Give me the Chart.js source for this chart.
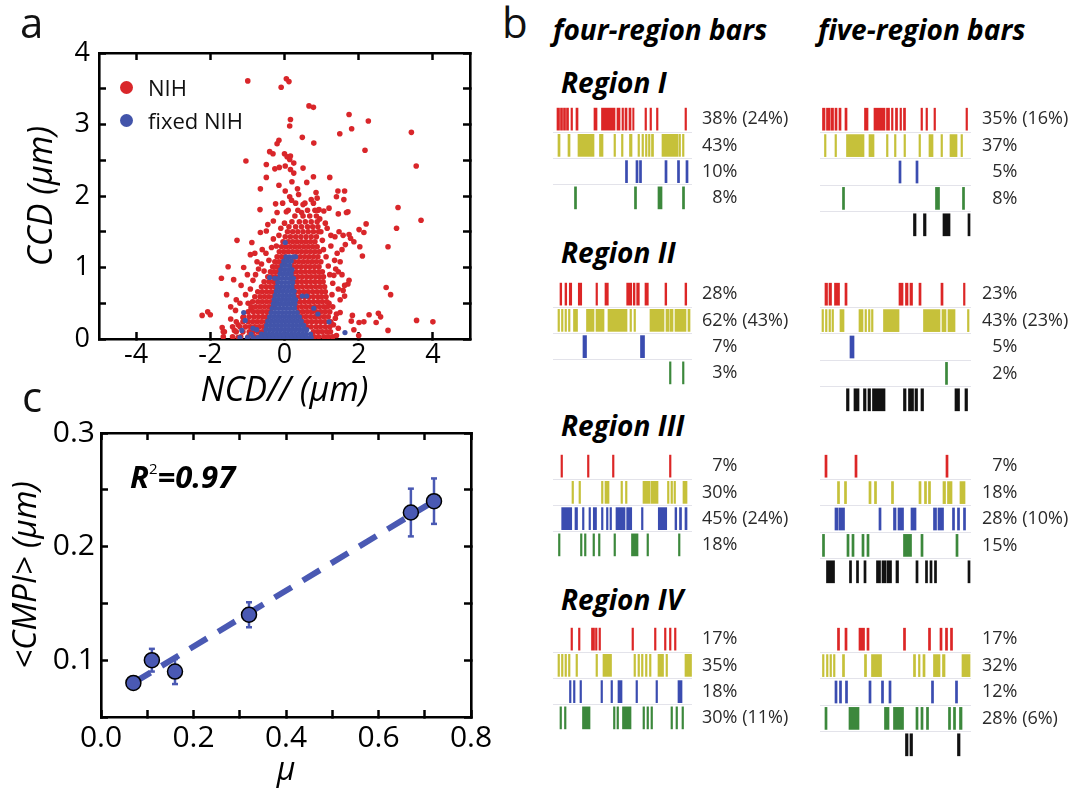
<!DOCTYPE html>
<html><head><meta charset="utf-8">
<script src="https://cdn.jsdelivr.net/npm/chart.js@4.4.0/dist/chart.umd.min.js"></script>
<style>
body{margin:0;width:1084px;height:790px;overflow:hidden;background:#fff;position:relative;font-family:'Open Sans','DejaVu Sans',sans-serif;color:#111}
canvas{position:absolute}
.t{position:absolute;white-space:nowrap;line-height:1}
.bi{font-weight:bold;font-style:italic;color:#000}
.dot{position:absolute;width:13px;height:13px;border-radius:50%}
</style></head><body>

<canvas id="ca" width="500" height="420" style="left:0;top:0"></canvas>
<canvas id="cc" width="500" height="400" style="left:0;top:400px"></canvas>

<canvas id="b4_1" width="245" height="105" style="left:553px;top:106px"></canvas>
<canvas id="b4_2" width="245" height="105" style="left:553px;top:281px"></canvas>
<canvas id="b4_3" width="245" height="105" style="left:553px;top:453px"></canvas>
<canvas id="b4_4" width="245" height="105" style="left:553px;top:626px"></canvas>
<canvas id="b5_1" width="256" height="132" style="left:820px;top:106px"></canvas>
<canvas id="b5_2" width="256" height="132" style="left:820px;top:281px"></canvas>
<canvas id="b5_3" width="256" height="132" style="left:820px;top:453px"></canvas>
<canvas id="b5_4" width="256" height="132" style="left:820px;top:626px"></canvas>

<div class="t" style="left:20px;top:1px;font-size:42px">a</div>
<div class="t" style="left:502px;top:1px;font-size:42px">b</div>
<div class="t" style="left:22px;top:375px;font-size:42px">c</div>

<div class="dot" style="left:120px;top:81px;background:#d9262a"></div>
<div class="t" style="left:148px;top:75.5px;font-size:22px">NIH</div>
<div class="dot" style="left:120px;top:114px;background:#4254aa"></div>
<div class="t" style="left:148px;top:108.5px;font-size:22px">fixed NIH</div>

<div class="t bi" style="left:130px;top:461px;font-size:31px">R<sup style="font-size:15px;font-weight:normal;font-style:normal;vertical-align:14px">2</sup>=0.97</div>

<div class="t bi" style="left:553px;top:15px;font-size:28px">four-region bars</div>
<div class="t bi" style="left:818px;top:15px;font-size:28px">five-region bars</div>
<div class="t bi" style="left:561px;top:68px;font-size:28px">Region I</div>
<div class="t bi" style="left:561px;top:238px;font-size:28px">Region II</div>
<div class="t bi" style="left:561px;top:411px;font-size:28px">Region III</div>
<div class="t bi" style="left:561px;top:585px;font-size:28px">Region IV</div>

<script>
const FONT = "'Open Sans','DejaVu Sans',sans-serif";
const RED = '#d9262a', BLUE = '#4254aa', MARK = '#4a59b3';
const ROW_COLORS = ['#dc2626', '#c6c13a', '#3a4cb0', '#3c883c', '#111111'];

// ---------- panel a : NIH (red) and fixed NIH (blue) ----------
const ncdTicks = [-4, -2, 0, 2, 4];
const nihOutliers = [[-0.99,3.61],[0.05,3.64],[0.12,3.60],[-0.09,3.52],[0.66,3.26],[0.78,3.24],[0.16,3.07],[0.14,2.98],
 [1.74,3.14],[2.26,3.05],[1.81,2.94],[1.49,2.87],[3.42,2.89],[0.48,2.82],[-0.15,2.78],[-0.2,2.73],[0.79,2.74],[2.17,2.64],
 [-0.4,2.62],[-0.31,2.59],[0,2.59],[0.07,2.55],[0.16,2.56],[0.14,2.51],[-1.04,2.49],[-0.49,2.44],[3.55,2.42],[0.25,2.46],
 [-0.26,2.38],[-0.14,2.40],[0.02,2.42],[0.5,2.39],[0.16,2.37],[0.25,2.32],[0.78,2.27],[1.22,2.26],[-0.49,2.26],[0.2,2.2],
 [0.6,2.19],[-0.15,2.15],[-0.65,2.10],[0.02,2.07],[1.44,2.07],[1.62,2.07],[0.38,2.02],[0.14,1.99],[0.19,1.94],[1.40,1.99],
 [1.60,1.95],[0.88,1.97],[-0.24,1.89],[3.06,1.84],[-0.66,1.81],[0.93,1.81],[1.06,1.79],[1.2,1.83],[0.05,1.78],[1.71,1.78],
 [3.68,1.66],[0.46,1.77],[-0.2,1.77],[1.45,1.75],[1.67,1.77],[3.02,1.55],[2.01,1.53],[2.14,1.49],[2.2,1.61],[-0.49,1.51],
 [-0.65,1.49],[1.47,1.50],[1.74,1.46],[-1.28,1.38],[2.79,1.29],[-0.88,1.35],[2.03,1.29],[1.87,1.36],[-0.92,1.18],[-0.74,1.08],
 [-1.52,1.01],[2.10,1.16],[-1.70,0.85],[-1.37,0.83],[-1.17,0.75],[1.74,0.82],[1.71,0.77],[-1.56,0.62],[2.74,0.72],[2.86,0.62],
 [1.62,0.6],[-2.22,0.33],[-2.0,0.34],[-2.07,0.38],[-1.68,0.16],[-1.65,0.1],[2.28,0.34],[2.53,0.36],[2.59,0.31],[2.47,0.23],
 [3.56,0.26],[4.0,0.24],[2.79,0.12],[2.01,0.23],[2.14,0.24],[1.87,0.13],[1.83,0.33],[1.80,0.25],[1.5,0.37],[1.37,0.29],
 [1.58,0.68],[1.62,0.75],[1.33,0.89],[1.45,0.94],[1.5,1.08],[1.55,1.25],[1.64,1.32],[1.78,1.41],[1.36,1.43],[1.58,1.45],
 [-1.3,0.55],[-1.45,0.45],[-1.25,0.02],[1.4,0.05],[1.45,0.15],[2.0,0.05]];
const nihFringe = [[-1.45,0.28],[-1.32,0.4],[-1.2,0.5],[-1.05,0.62],[-0.98,0.5],[-0.92,0.7],[-0.85,0.82],[-0.78,0.9],
 [-0.7,0.98],[-0.62,1.05],[-0.55,0.95],[-0.5,1.2],[-0.42,1.1],[-0.35,1.28],[-0.3,1.4],[-0.22,1.3],[-1.12,0.3],[-1.25,0.2],
 [-1.35,0.12],[-0.9,0.42],[-0.6,1.25],[-0.45,1.6],[-0.3,1.65],[-0.1,1.55],[-0.15,1.45],[1.2,0.5],[1.28,0.62],[1.3,0.78],
 [1.22,0.9],[1.18,1.02],[1.12,1.15],[1.05,1.25],[1.02,1.38],[0.98,1.5],[1.1,1.62],[0.95,1.68],[1.25,1.3],[1.35,1.1],
 [1.4,0.35],[1.32,0.2],[1.25,1.45],[1.15,1.55],[0.9,1.8],[0.72,1.95],[0.5,1.88],[0.0,1.62],[1.38,0.98],[1.45,0.7],[1.3,0.45],
 [-0.8,1.2],[-1.0,0.9],[-1.1,1.0],[1.5,0.55],[1.55,0.9],[1.42,1.2],[0.85,2.05],[0.35,2.1],[-0.05,1.9]];
// dense core, one row per CCD level: [CCD, NCD values...]
const nihRows = [
 [0.03,-1.65,-1.4,-1.18,-0.98,-0.8,-0.66,0.8,0.92,1.06,1.18,1.3],
 [0.10,-1.62,-1.3,-1.12,-0.95,-0.85,-0.72,-0.6,0.78,0.9,1.02,1.14,1.24],
 [0.17,-1.4,-1.2,-1.05,-0.92,-0.8,-0.68,-0.56,0.6,0.72,0.85,0.97,1.1,1.22],
 [0.24,-1.3,-1.12,-0.98,-0.86,-0.74,-0.62,-0.5,0.5,0.62,0.74,0.86,0.98,1.1,1.25],
 [0.31,-1.1,-0.95,-0.82,-0.7,-0.58,-0.47,0.45,0.57,0.7,0.82,0.94,1.06,1.18],
 [0.38,-0.98,-0.84,-0.72,-0.6,-0.48,-0.38,0.38,0.5,0.62,0.74,0.86,0.98,1.1,1.22],
 [0.45,-0.9,-0.78,-0.66,-0.54,-0.42,-0.32,0.34,0.46,0.58,0.7,0.82,0.94,1.06,1.16],
 [0.52,-0.86,-0.72,-0.6,-0.48,-0.36,-0.28,0.3,0.42,0.54,0.66,0.78,0.9,1.02,1.14],
 [0.59,-0.8,-0.66,-0.54,-0.42,-0.3,0.3,0.42,0.54,0.66,0.78,0.9,1.0,1.12],
 [0.66,-0.72,-0.6,-0.48,-0.36,-0.25,0.28,0.4,0.52,0.64,0.76,0.88,1.0,1.1],
 [0.73,-0.62,-0.5,-0.38,-0.27,-0.2,0.25,0.36,0.48,0.6,0.72,0.84,0.96,1.08],
 [0.80,-0.55,-0.42,-0.3,-0.2,0.22,0.34,0.46,0.58,0.7,0.82,0.94,1.04],
 [0.87,-0.45,-0.34,-0.24,0.24,0.36,0.48,0.6,0.72,0.84,0.95,1.05],
 [0.94,-0.38,-0.28,-0.18,0.22,0.32,0.44,0.56,0.68,0.8,0.92,1.02],
 [1.01,-0.32,-0.22,-0.12,0.22,0.33,0.45,0.57,0.69,0.81,0.93],
 [1.08,-0.26,-0.15,-0.05,0.26,0.38,0.5,0.62,0.74,0.86,0.98],
 [1.15,-0.2,-0.08,0.02,0.3,0.42,0.54,0.66,0.78,0.9],
 [1.22,-0.14,-0.02,0.1,0.22,0.34,0.46,0.58,0.7,0.82,0.94],
 [1.29,-0.08,0.04,0.16,0.28,0.4,0.52,0.64,0.76,0.88],
 [1.36,-0.04,0.1,0.22,0.34,0.46,0.58,0.7,0.82],
 [1.43,0.02,0.16,0.3,0.44,0.58,0.72,0.86],
 [1.50,0.08,0.22,0.36,0.5,0.64,0.78,0.92],
 [1.57,0.12,0.3,0.46,0.62,0.76,0.9],
 [1.64,0.2,0.4,0.56,0.72,0.88],
 [1.72,0.28,0.5,0.68,0.86],
 [1.80,0.1,0.36,0.62,0.82],
 [1.90,0.3,0.55,0.78]];
const fixedOutliers = [[-1.1,0.37],[-1.06,0.26],[1.63,0.09],[1.2,0.24],[0.79,0.43],[0.48,0.6],[0.6,0.6],[-0.4,0.86],
 [-0.26,0.85],[0.02,1.35],[0.3,1.15],[-1.15,0.12],[0.9,0.35],[-0.85,0.15]];
const fixedRows = [
 [0.02,-1.2,-1.0,-0.85,-0.72,-0.6,-0.5,-0.4,-0.3,-0.2,-0.1,0,0.1,0.2,0.3,0.4,0.5,0.6,0.72],
 [0.07,-0.9,-0.62,-0.52,-0.42,-0.32,-0.22,-0.12,-0.02,0.08,0.18,0.28,0.38,0.48,0.58,0.7],
 [0.13,-0.75,-0.5,-0.4,-0.3,-0.2,-0.1,0,0.1,0.2,0.3,0.4,0.5,0.6],
 [0.19,-0.48,-0.38,-0.28,-0.18,-0.08,0.02,0.12,0.22,0.32,0.42,0.52],
 [0.25,-0.45,-0.35,-0.25,-0.15,-0.05,0.05,0.15,0.25,0.35,0.45],
 [0.31,-0.4,-0.3,-0.2,-0.1,0,0.1,0.2,0.3,0.4],
 [0.37,-0.36,-0.26,-0.16,-0.06,0.04,0.14,0.24,0.34],
 [0.43,-0.33,-0.23,-0.13,-0.03,0.07,0.17,0.27],
 [0.49,-0.3,-0.2,-0.1,0,0.1,0.2,0.28],
 [0.55,-0.28,-0.18,-0.08,0.02,0.12,0.22,0.3],
 [0.61,-0.25,-0.15,-0.05,0.05,0.15,0.25],
 [0.67,-0.22,-0.12,-0.02,0.08,0.18,0.26],
 [0.73,-0.2,-0.1,0,0.1,0.2],
 [0.79,-0.18,-0.08,0.02,0.12,0.22],
 [0.85,-0.15,-0.05,0.05,0.15,0.24],
 [0.91,-0.12,-0.02,0.08,0.18],
 [0.97,-0.1,0,0.1,0.2],
 [1.03,-0.06,0.04,0.14],
 [1.09,-0.02,0.08,0.18],
 [1.15,0.04,0.14,0.24]];

// ---------- panel c ----------
const muValues = [0.07, 0.11, 0.16, 0.32, 0.67, 0.72];
const cmpiValues = [0.08, 0.10, 0.09, 0.14, 0.23, 0.24];
const cmpiErrors = [0.004, 0.01, 0.011, 0.011, 0.021, 0.02];
const fitMu = [0.07, 0.72];
const fitCmpi = [0.08, 0.24];

// ---------- panel b : barcode intervals (frame units) ----------
const fourRegionI = [
 [[7,9.5],[10.5,12.5],[13.5,15.5],[16.5,18.5],[21,22.5],[26,28],[44,47],[51.5,65],[67,70],[72,73.5],[75,77],[79,81],[82.7,84],[95,96.5],[100,101.5],[106.5,108],[135,136.5]],
 [[8,10],[18,20],[28,44],[49.5,53],[64,65.5],[71.5,73],[79.5,82],[88,89.5],[92,93.5],[95.5,97],[98.5,100],[101.5,103.5],[112,128],[129,130.5],[132.5,134]],
 [[75.5,77.5],[86,88],[89.5,91.5],[115,117],[127.5,129.5],[136,138]],
 [[24.5,26.5],[84.5,86.5],[108,112],[132.5,134.5]]];
const fourRegionII = [
 [[10,11.7],[15,16.7],[19.3,21.7],[28.3,31.7],[46,47.5],[55,58.3],[76.7,81.7],[83.3,85],[86.7,89.3],[95,98.3],[115,116.7],[135,136.7]],
 [[8,9.5],[11.5,13],[15,16.5],[18.5,20],[23.5,27.5],[36.5,44],[46,54],[58,77],[80,81.5],[84,85.5],[100,114],[116,119],[120,123],[125,136],[138,140]],
 [[33,36.5],[90.5,94.5]],
 [[119.5,121],[132.5,134]]];
const fourRegionIII = [
 [[11,12.5],[37.5,39],[62.5,64],[119.5,121]],
 [[22,23.5],[29,30.5],[51.5,53],[55,59],[71,72.5],[75.5,77],[93,100],[101,108],[117.5,119],[121,122.5],[124,125.5],[133,137]],
 [[11.7,21.7],[25,27.5],[32.5,34],[39,40.5],[43.3,46.5],[51.5,53],[56.5,58],[60,61.5],[66,75],[76.7,81.7],[91.5,93],[108.3,116.7],[125,126.7],[129.5,131.5],[135,137]],
 [[8.5,10],[30.5,32],[34.5,36],[43,44.5],[48.5,50],[64,65.5],[81.5,88],[97,98.5],[128.5,130]]];
const fourRegionIV = [
 [[21,22.5],[28.5,30],[41.5,44.5],[45.5,47],[49,50.5],[82,83.5],[104.5,106],[114.5,116],[119.5,121],[124.5,126]],
 [[8,9.5],[11.5,13],[15,16.5],[18.5,20],[26,27.5],[46,47.5],[53,61.5],[84,85.5],[88,89.5],[91.5,93],[95.5,97],[99.5,101],[108,113.5],[116,117.5],[135,141.5]],
 [[19.5,21],[23.5,25],[30,31.5],[51,52.5],[61,62.5],[68,72],[86,87.5],[106,107.5],[128,132]],
 [[10,11.5],[14.5,16],[32.5,40],[63.5,65],[67,68.5],[72.5,81],[93,94.5],[97,98.5],[101,102.5],[121,122.5],[126,127.5],[132,133.5]]];
const fiveRegionI = [
 [[7.5,10],[11.5,15],[16,18.5],[20,22],[24,26],[30,32],[49.5,53],[59,70],[71.5,74.5],[76.5,78],[80.5,82.5],[85,86.5],[88.5,90.5],[106,107.5],[111,112.5],[119,120.5],[151,152.5]],
 [[9.5,11],[20,21.5],[31.5,49],[54,59],[71.5,73],[79.5,81],[89,90.5],[104,105.5],[114,118],[126,127.5],[135,142],[146,147.5]],
 [[84,86],[101,103]],
 [[27.5,29.5],[120.5,124.5],[147.5,149.5]],
 [[98.5,101],[108.5,111],[128,135],[153,155]]];
const fiveRegionII = [
 [[10,12.5],[14,16.5],[19.5,24.5],[30,32],[84,88],[90.5,93],[95,97.5],[104,106],[126,128],[148.5,150]],
 [[7,8.5],[10.5,12],[14,15.5],[17,18.5],[25,29],[44,48],[50,51.5],[53.5,55],[56.5,58],[68.5,84],[108.5,125],[127,131],[133,140],[152.5,154]],
 [[35,39]],
 [[130.5,132.5]],
 [[31.5,34],[39,44],[48.5,51],[53,55.5],[57.5,70],[88.5,91],[93.5,98.5],[100,102.5],[106,108.5],[140,144.5],[150,152.5]]];
const fiveRegionIII = [
 [[10,12],[40,42],[131,133]],
 [[22.5,24.5],[29.5,31.5],[54,56],[59.5,61.5],[76.5,78.5],[104,106],[109.5,111.5],[113.5,115.5],[128,130.5],[132.5,137],[145,150]],
 [[20,23],[24,29.5],[64,66],[78.5,81],[83,88.5],[96,101],[118.5,121.5],[123,128.5],[137.5,139.5],[142.5,144.5],[148.5,150.5]],
 [[7.5,9.5],[32,34],[37,39],[47,49],[52,54],[88.5,96.5],[106,108],[141,143]],
 [[11.5,19.5],[34.5,36.5],[41.5,43.5],[49,51],[61.5,65.5],[67,71],[72,76.5],[81,83.5],[101,103],[110.5,112.5],[115,117],[119.5,121.5],[153,155]]];
const fiveRegionIV = [
 [[22.5,24.5],[30,32],[44,49.5],[52,54],[88.5,90.5],[113.5,115.5],[125,127],[130.5,132.5],[135.5,137.5]],
 [[7.5,9],[11.5,13],[15,16.5],[18.5,20],[27.5,29.5],[49.5,51.5],[56.5,66.5],[98.5,100.5],[103.5,105],[108,110],[118.5,125],[127.5,130],[147,155]],
 [[20,22],[24.5,26.5],[30.5,32.5],[54,56],[66.5,68.5],[74,76],[116.5,118.5],[140.5,142.5]],
 [[10,12],[34,44],[69.5,74],[78.5,88.5],[101,103],[106,108],[111.5,113.5],[133.5,135.5],[138.5,140.5],[144.5,147]],
 [[90.5,93],[95,97.5],[142.5,145]]];
const F = '\u2007';
const fourLabelsI = ['38% (24%)', '43%', '10%', F + '8%'];
const fourLabelsII = ['28%', '62% (43%)', F + '7%', F + '3%'];
const fourLabelsIII = [F + '7%', '30%', '45% (24%)', '18%'];
const fourLabelsIV = ['17%', '35%', '18%', '30% (11%)'];
const fiveLabelsI = ['35% (16%)', '37%', F + '5%', F + '8%', ''];
const fiveLabelsII = ['23%', '43% (23%)', F + '5%', F + '2%', ''];
const fiveLabelsIII = [F + '7%', '18%', '28% (10%)', '15%', ''];
const fiveLabelsIV = ['17%', '32%', '12%', '28% (6%)', ''];

// ---------- helpers ----------
const toPts = (rows, extra) => extra.map(([x, y]) => ({x, y}))
  .concat(rows.flatMap(r => r.slice(1).map(x => ({x, y: r[0]}))));
const common = {responsive: false, animation: false, events: [],
  plugins: {legend: {display: false}, tooltip: {enabled: false}}, layout: {padding: 0}};
function frameAxis(pos, min, max, step, size, opts = {}, fixedTicks = null) {
  const horiz = pos === 'top' || pos === 'bottom';
  const ax = Object.assign({
    type: 'linear', position: pos, min, max,
    ticks: {stepSize: step, display: false, color: '#000', autoSkip: false, maxRotation: 0},
    grid: {drawOnChartArea: false, color: '#000', tickLength: -7, tickWidth: 2.5},
    border: {color: '#000', width: 2.6},
    afterFit: s => { if (horiz) s.height = size; else s.width = size;
      s.paddingTop = s.paddingBottom = s.paddingLeft = s.paddingRight = 0; }
  }, opts);
  if (fixedTicks) ax.afterBuildTicks = s => { s.ticks = fixedTicks.map(v => ({value: v})); };
  return ax;
}

// ---------- panel a chart ----------
new Chart(document.getElementById('ca'), {
  type: 'scatter',
  data: {datasets: [
    {label: 'NIH', data: toPts(nihRows, nihOutliers.concat(nihFringe)), backgroundColor: RED, borderWidth: 0, pointRadius: 2.8, order: 2},
    {label: 'fixed NIH', data: toPts(fixedRows, fixedOutliers), backgroundColor: BLUE, borderWidth: 0, pointRadius: 2.6, order: 1}
  ]},
  options: Object.assign({}, common, {scales: {
    x: frameAxis('bottom', -5, 5, 2, 81, {
      ticks: {padding: 7, color: '#000', font: {family: FONT, size: 27}, maxRotation: 0, autoSkip: false},
      title: {display: true, text: 'NCD// (μm)', color: '#000', font: {family: FONT, size: 34, style: 'italic'}, padding: {top: 0, bottom: 8}}}, ncdTicks),
    x2: frameAxis('top', -5, 5, 2, 53, {}, ncdTicks),
    y: frameAxis('left', 0, 4, 0.5, 99, {
      ticks: {stepSize: 0.5, padding: 16, color: '#000', font: {family: FONT, size: 27}, autoSkip: false,
        callback: v => Number.isInteger(v) ? String(v) : ''},
      title: {display: true, text: 'CCD (μm)', color: '#000', font: {family: FONT, size: 34, style: 'italic'}, padding: {top: 22, bottom: 0}}}),
    y2: frameAxis('right', 0, 4, 0.5, 30)
  }})
});

// ---------- panel c chart ----------
const errPts = [];
muValues.forEach((m, i) => {
  errPts.push({x: m, y: cmpiValues[i] - cmpiErrors[i]}, {x: m, y: cmpiValues[i] + cmpiErrors[i]}, {x: m, y: null});
});
new Chart(document.getElementById('cc'), {
  type: 'scatter',
  data: {datasets: [
    {label: 'fit', data: fitMu.map((m, i) => ({x: m, y: fitCmpi[i]})), showLine: true, borderColor: MARK,
      borderWidth: 6, borderDash: [20, 13], pointRadius: 0, order: 3},
    {label: 'err', data: errPts, showLine: true, spanGaps: false, borderColor: MARK, borderWidth: 2.5,
      pointStyle: 'line', pointRadius: 3, pointBorderColor: MARK, pointBorderWidth: 2.5, order: 2},
    {label: 'CMPI', data: muValues.map((m, i) => ({x: m, y: cmpiValues[i]})), backgroundColor: MARK,
      borderColor: '#000', borderWidth: 1.5, pointRadius: 7.5, order: 1}
  ]},
  options: Object.assign({}, common, {scales: {
    x: frameAxis('bottom', 0, 0.8, 0.1, 83, {
      ticks: {stepSize: 0.1, padding: 10, color: '#000', font: {family: FONT, size: 30}, autoSkip: false, maxRotation: 0,
        callback: v => { const k = Math.round(v * 10); return k % 2 === 0 ? (k / 10).toFixed(1) : ''; }},
      title: {display: true, text: 'μ', color: '#000', font: {family: FONT, size: 32, style: 'italic'}, padding: {top: 0, bottom: 10}}}),
    x2: frameAxis('top', 0, 0.8, 0.1, 33),
    y: frameAxis('left', 0.05, 0.3, 0.05, 101, {
      ticks: {stepSize: 0.05, padding: 13, color: '#000', font: {family: FONT, size: 30}, autoSkip: false,
        callback: v => { const k = Math.round(v * 100); return k % 10 === 0 ? (k / 100).toFixed(1) : ''; }},
      title: {display: true, text: '<CMPI> (μm)', color: '#000', font: {family: FONT, size: 33, style: 'italic'}, padding: {top: 7, bottom: 0}}}),
    y2: frameAxis('right', 0.05, 0.3, 0.05, 29)
  }})
});

// ---------- panel b charts ----------
function barcode(id, rows, labels, xmin, xmax, labelW, pad) {
  const datasets = rows.map((ivs, r) => ({
    data: ivs.map(iv => ({x: iv, y: labels[r]})),
    backgroundColor: ROW_COLORS[r], borderWidth: 0, barThickness: 22, grouped: false, inflateAmount: 0.35
  }));
  new Chart(document.getElementById(id), {
    type: 'bar',
    data: {labels, datasets},
    options: Object.assign({}, common, {indexAxis: 'y', scales: {
      x: {type: 'linear', min: xmin, max: xmax, display: false},
      y: {type: 'category', position: 'right',
        grid: {color: c => c.index === 0 ? 'rgba(0,0,0,0)' : '#e3e3ea', drawTicks: false, lineWidth: 1},
        border: {display: false},
        ticks: {padding: pad, color: '#2a2a2a', autoSkip: false, font: {family: FONT, size: 18}},
        afterFit: s => { s.width = labelW; s.paddingTop = 0; s.paddingBottom = 0; }}
    }})
  });
}
barcode('b4_1', fourRegionI, fourLabelsI, 3, 142, 106, 10);
barcode('b4_2', fourRegionII, fourLabelsII, 3, 142, 106, 10);
barcode('b4_3', fourRegionIII, fourLabelsIII, 3, 142, 106, 10);
barcode('b4_4', fourRegionIV, fourLabelsIV, 3, 142, 106, 10);
barcode('b5_1', fiveRegionI, fiveLabelsI, 5, 156, 105, 11);
barcode('b5_2', fiveRegionII, fiveLabelsII, 5, 156, 105, 11);
barcode('b5_3', fiveRegionIII, fiveLabelsIII, 5, 156, 105, 11);
barcode('b5_4', fiveRegionIV, fiveLabelsIV, 5, 156, 105, 11);
</script>
</body></html>
